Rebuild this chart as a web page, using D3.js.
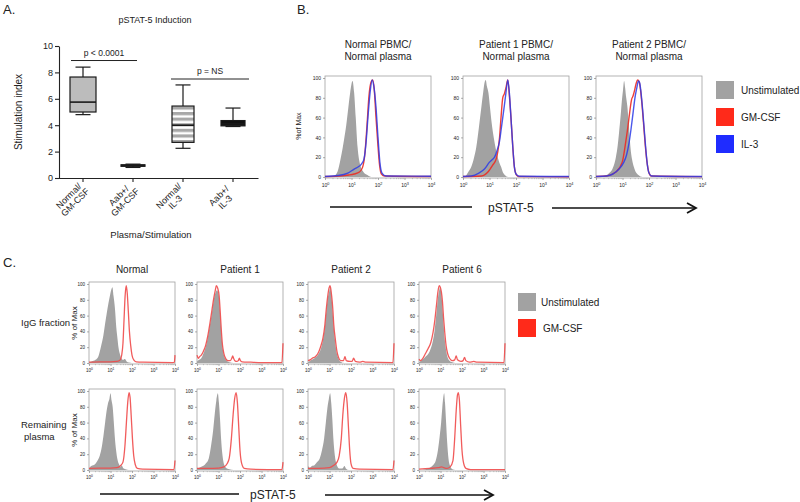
<!DOCTYPE html>
<html><head><meta charset="utf-8">
<script src="https://cdn.jsdelivr.net/npm/d3@7"></script>
<style>body{margin:0;background:#fff} text{font-family:Arial,"Liberation Sans",Helvetica,sans-serif;fill:#222}</style>
</head><body><svg id="c" width="800" height="502"></svg>
<script>
// ---------------- DATA ----------------
// Panel A: box plot
const boxCategories = ["Normal/GM-CSF","Aab+/GM-CSF","Normal/IL-3","Aab+/IL-3"];
const boxMin    = [4.8, 0.8, 2.25, 3.9];
const boxQ1     = [5.0, 0.9, 2.7, 3.95];
const boxMedian = [5.75, 0.95, 4.0, 4.1];
const boxQ3     = [7.65, 1.0, 5.45, 4.35];
const boxMax    = [8.4, 1.05, 7.05, 5.3];
const yTicksA   = [0, 2, 4, 6, 8, 10];
const pLabels   = ["p < 0.0001", "p = NS"];
const pLevels   = [8.9, 7.5];
const pPairs    = [[0, 1], [2, 3]];

// Panel B: flow histograms, points are [log10(pSTAT-5), % of Max]
const bTitleLine1 = ["Normal PBMC/", "Patient 1 PBMC/", "Patient 2 PBMC/"];
const bTitleLine2 = ["Normal plasma", "Normal plasma", "Normal plasma"];
const bUnstim = [
  [[0,0],[0.3,0.5],[0.45,4],[0.6,20],[0.72,38],[0.8,52],[0.88,70],[0.95,85],[1.04,97],[1.1,85],[1.16,60],[1.23,30],[1.33,12],[1.45,5],[1.6,2],[1.75,0],[4,0]],
  [[0,0],[0.1,1],[0.2,5],[0.31,10],[0.42,20],[0.5,30],[0.6,50],[0.69,70],[0.76,85],[0.81,95],[0.86,98],[0.9,92],[0.96,85],[1.02,70],[1.08,55],[1.16,40],[1.24,28],[1.31,20],[1.38,14],[1.44,10],[1.5,5],[1.58,2],[1.7,0],[4,0]],
  [[0,0],[0.3,1],[0.5,4],[0.62,8],[0.75,20],[0.82,32],[0.87,45],[0.93,62],[0.97,75],[1.02,88],[1.06,97],[1.1,90],[1.14,80],[1.18,72],[1.22,60],[1.26,45],[1.3,30],[1.36,18],[1.43,10],[1.5,5],[1.6,2],[1.75,0],[4,0]]
];
const bGMCSF = [
  [[0,0.5],[0.5,1],[0.9,2],[1.1,3],[1.3,5],[1.42,10],[1.5,22],[1.58,50],[1.66,82],[1.74,96],[1.8,98],[1.86,88],[1.92,62],[1.99,35],[2.06,12],[2.13,3],[2.25,1],[4,0.5]],
  [[0,0.5],[0.7,1],[0.94,5],[1.12,12],[1.25,18],[1.31,25],[1.38,40],[1.44,62],[1.5,80],[1.56,84],[1.62,90],[1.69,98],[1.75,82],[1.81,60],[1.88,30],[1.94,10],[2.02,2],[2.1,0.5],[4,0.3]],
  [[0,0.5],[0.4,1],[0.75,5],[0.99,15],[1.12,35],[1.2,50],[1.27,65],[1.34,78],[1.4,82],[1.46,88],[1.52,95],[1.57,98],[1.63,96],[1.68,88],[1.74,72],[1.8,52],[1.86,32],[1.93,14],[1.99,5],[2.08,1],[4,0.4]]
];
const bIL3 = [
  [[0,0.5],[0.5,1.5],[0.86,4],[1.1,8],[1.3,11],[1.4,14],[1.47,18],[1.55,35],[1.62,60],[1.7,85],[1.78,98],[1.84,92],[1.92,72],[2.0,40],[2.07,15],[2.15,4],[2.3,1],[4,0.8]],
  [[0,0.5],[0.31,1],[0.6,4],[0.81,8],[1.0,15],[1.12,18],[1.19,20],[1.3,28],[1.37,35],[1.44,48],[1.5,60],[1.56,72],[1.62,85],[1.69,98],[1.75,85],[1.81,60],[1.88,30],[1.94,10],[2.0,3],[2.12,0.8],[4,0.5]],
  [[0,0.5],[0.4,1],[0.87,8],[1.05,15],[1.15,22],[1.25,35],[1.32,48],[1.4,65],[1.47,80],[1.54,90],[1.6,97],[1.65,95],[1.7,85],[1.76,68],[1.82,48],[1.88,28],[1.94,12],[2.0,4],[2.1,1],[4,0.5]]
];
const bLegendLabels = ["Unstimulated", "GM-CSF", "IL-3"];

// Panel C: columns x rows
const cColumns = ["Normal", "Patient 1", "Patient 2", "Patient 6"];
const cRows = [["IgG fraction"], ["Remaining", "plasma"]];
const cIgGUnstim = [
  [[0,1],[0.12,2],[0.3,4],[0.43,8],[0.55,20],[0.67,35],[0.75,50],[0.82,62],[0.9,75],[0.98,86],[1.05,94],[1.09,96],[1.14,85],[1.21,68],[1.27,45],[1.32,32],[1.37,20],[1.43,12],[1.5,6],[1.58,4],[1.67,5],[1.75,2],[1.85,0.5],[2,0],[4,0]],
  [[0,2],[0.1,4],[0.2,6],[0.3,12],[0.4,20],[0.5,32],[0.6,48],[0.7,65],[0.78,80],[0.85,88],[0.93,92],[0.98,90],[1.03,82],[1.08,62],[1.13,40],[1.18,22],[1.25,10],[1.35,4],[1.5,1],[1.7,0],[4,0]],
  [[0,1],[0.1,3],[0.3,6],[0.5,12],[0.6,18],[0.7,30],[0.78,45],[0.85,65],[0.92,82],[0.98,90],[1.04,96],[1.09,85],[1.14,68],[1.2,45],[1.26,28],[1.32,15],[1.4,7],[1.5,2],[1.7,0],[4,0]],
  [[0,1],[0.1,3],[0.3,8],[0.5,15],[0.62,25],[0.72,40],[0.8,60],[0.88,82],[0.94,92],[0.98,96],[1.03,90],[1.08,75],[1.13,55],[1.18,35],[1.25,18],[1.32,8],[1.42,3],[1.55,1],[1.7,0],[4,0]]
];
const cIgGGMCSF = [
  [[0,1],[0.5,1.5],[1,1.5],[1.3,2],[1.45,4],[1.52,10],[1.58,25],[1.63,55],[1.68,85],[1.73,98],[1.78,88],[1.83,65],[1.88,40],[1.94,22],[2.0,10],[2.08,4],[2.2,1.5],[2.5,1],[3.9,0.5],[3.97,1],[4,10]],
  [[0,10],[0.06,6],[0.12,8],[0.2,10],[0.3,15],[0.4,22],[0.5,34],[0.6,50],[0.7,68],[0.78,82],[0.85,92],[0.9,98],[0.96,95],[1.03,85],[1.08,65],[1.13,42],[1.18,24],[1.25,12],[1.35,5],[1.45,3],[1.55,3],[1.62,6],[1.66,9],[1.7,6],[1.76,3],[1.85,2],[1.92,3],[1.97,6],[2.02,3],[2.1,1.5],[2.5,1],[3,0.5],[3.95,0.5],[4,25]],
  [[0,3],[0.1,4],[0.2,6],[0.34,8],[0.46,12],[0.58,20],[0.7,32],[0.78,47],[0.85,68],[0.92,85],[0.98,95],[1.02,98],[1.06,94],[1.1,85],[1.15,70],[1.2,48],[1.28,28],[1.35,14],[1.42,7],[1.52,3],[1.65,3],[1.72,8],[1.78,3],[1.95,2],[2.05,2],[2.12,6],[2.2,2],[2.4,1],[2.55,2],[2.7,1],[3.95,0.5],[4,25]],
  [[0,5],[0.08,3],[0.18,6],[0.3,12],[0.42,18],[0.55,26],[0.65,38],[0.74,55],[0.82,75],[0.88,90],[0.94,98],[0.99,96],[1.04,90],[1.09,78],[1.14,58],[1.2,38],[1.26,22],[1.33,12],[1.42,6],[1.55,3],[1.66,4],[1.73,9],[1.79,4],[1.95,2],[2.05,3],[2.12,7],[2.18,3],[2.35,1],[2.55,2],[2.7,1],[3.95,0.5],[4,25]]
];
const cRemUnstim = [
  [[0,2],[0.1,5],[0.2,6],[0.3,8],[0.4,12],[0.5,18],[0.6,30],[0.68,45],[0.75,60],[0.82,75],[0.88,84],[0.95,90],[1.0,97],[1.05,88],[1.1,80],[1.15,62],[1.2,42],[1.26,25],[1.32,14],[1.4,7],[1.47,4],[1.52,6],[1.58,3],[1.7,1],[1.85,0],[4,0]],
  [[0,2],[0.2,4],[0.4,8],[0.55,15],[0.65,30],[0.75,50],[0.83,72],[0.9,88],[0.97,97],[1.02,85],[1.07,65],[1.12,40],[1.18,20],[1.25,8],[1.35,3],[1.5,1],[1.7,0],[4,0]],
  [[0,5],[0.08,3],[0.18,5],[0.3,6],[0.42,10],[0.55,15],[0.65,25],[0.75,40],[0.83,60],[0.9,78],[0.97,90],[1.03,97],[1.08,85],[1.13,65],[1.18,40],[1.25,18],[1.33,7],[1.45,2],[1.6,2],[1.7,5],[1.76,2],[1.9,0],[4,0]],
  [[0,0],[0.3,1],[0.5,3],[0.65,6],[0.78,12],[0.88,25],[0.96,42],[1.03,60],[1.08,78],[1.13,92],[1.17,97],[1.21,85],[1.26,60],[1.31,35],[1.37,15],[1.45,5],[1.55,1],[1.7,0],[4,0]]
];
const cRemGMCSF = [
  [[0,2],[0.5,2.5],[1,2.5],[1.3,3],[1.45,5],[1.58,10],[1.67,30],[1.74,60],[1.8,85],[1.86,98],[1.91,92],[1.96,70],[2.02,40],[2.08,18],[2.15,7],[2.25,2],[2.5,1],[3.95,0.5],[4,12]],
  [[0,2],[0.5,2],[1.0,2.5],[1.25,4],[1.4,8],[1.5,15],[1.6,40],[1.68,70],[1.75,90],[1.82,98],[1.88,85],[1.94,55],[2.0,25],[2.08,8],[2.2,2],[2.5,1],[3.95,0.5],[4,10]],
  [[0,2],[0.5,2],[1.0,3],[1.2,6],[1.35,10],[1.45,18],[1.55,40],[1.62,70],[1.7,92],[1.76,98],[1.82,85],[1.88,55],[1.94,25],[2.0,8],[2.1,2],[2.4,1],[3.95,0.5],[4,12]],
  [[0,1],[0.5,2],[0.9,3],[1.05,4],[1.15,3],[1.3,2],[1.45,4],[1.58,12],[1.66,40],[1.73,75],[1.79,95],[1.83,98],[1.88,88],[1.94,55],[2.0,25],[2.08,8],[2.18,2],[2.4,0.5],[4,0.5]]
];
const cLegendLabels = ["Unstimulated", "GM-CSF"];

const histYTicks = [0, 20, 40, 60, 80, 100];
const histXTicks = [0, 1, 2, 3, 4];

// ---------------- STYLE ----------------
const GRAY = "#a2a2a2", RED = "#ec2a22", BLUE = "#2c3be8", CRED = "#ef4a4a";
const svg = d3.select("#c");
const defs = svg.append("defs");
const pat = defs.append("pattern").attr("id","stripes").attr("patternUnits","userSpaceOnUse")
  .attr("width",6).attr("height",5.6);
pat.append("rect").attr("width",6).attr("height",5.6).attr("fill","#fff");
pat.append("rect").attr("width",6).attr("height",3.2).attr("fill","#a8a8a8");

function label(x, y, t, size, opts = {}) {
  const el = svg.append("text").attr("x", x).attr("y", y).attr("font-size", size).text(t);
  if (opts.anchor) el.attr("text-anchor", opts.anchor);
  if (opts.rotate) el.attr("transform", `rotate(${opts.rotate},${x},${y})`);
  if (opts.weight) el.attr("font-weight", opts.weight);
  return el;
}

// ---------------- PANEL A ----------------
label(3, 14, "A.", 13);
label(155, 23, "pSTAT-5 Induction", 9, {anchor: "middle"});
const xA = d3.scaleBand().domain(boxCategories).range([58, 258]);
const yA = d3.scaleLinear().domain([0, 10]).range([178, 46]);
const cx = c => xA(c) + xA.bandwidth() / 2;

const ayA = svg.append("g").attr("transform", "translate(59,0)")
  .call(d3.axisLeft(yA).tickValues(yTicksA).tickSize(4).tickSizeOuter(0).tickPadding(2));
ayA.selectAll("text").attr("font-size", 9).attr("font-family", "Arial,Liberation Sans,sans-serif").attr("fill", "#222");
ayA.selectAll("line,path").attr("stroke", "#222").attr("stroke-width", 1.1);
const axA = svg.append("g").attr("transform", "translate(0,178)")
  .call(d3.axisBottom(xA).tickSize(4).tickSizeOuter(0).tickFormat(""));
axA.selectAll("line,path").attr("stroke", "#222").attr("stroke-width", 1.1);

label(22, 112, "Stimulation index", 10, {anchor: "middle", rotate: -90});
label(151, 238, "Plasma/Stimulation", 9.5, {anchor: "middle"});

boxCategories.forEach((c, i) => {
  const parts = c.split("/");
  const g = svg.append("g").attr("transform", `translate(${cx(c) - 12},${198}) rotate(-45)`);
  const t = g.append("text").attr("text-anchor", "middle").attr("font-size", 9);
  t.append("tspan").attr("x", 0).attr("y", 0).text(parts[0] + "/");
  t.append("tspan").attr("x", 0).attr("y", 9).text(parts[1]);
});

const boxFills = ["#bcbcbc", "#1a1a1a", "url(#stripes)", "#111"];
const boxW = [26, 24, 22, 24];
boxCategories.forEach((c, i) => {
  const x = cx(c), w = boxW[i], cap = 15;
  const g = svg.append("g").attr("stroke", "#1a1a1a").attr("stroke-width", 1.2);
  g.append("line").attr("x1", x).attr("x2", x).attr("y1", yA(boxMax[i])).attr("y2", yA(boxQ3[i]));
  g.append("line").attr("x1", x).attr("x2", x).attr("y1", yA(boxMin[i])).attr("y2", yA(boxQ1[i]));
  g.append("line").attr("x1", x - cap/2).attr("x2", x + cap/2).attr("y1", yA(boxMax[i])).attr("y2", yA(boxMax[i]));
  g.append("line").attr("x1", x - cap/2).attr("x2", x + cap/2).attr("y1", yA(boxMin[i])).attr("y2", yA(boxMin[i]));
  g.append("rect").attr("x", x - w/2).attr("width", w)
    .attr("y", yA(boxQ3[i])).attr("height", Math.max(1.5, yA(boxQ1[i]) - yA(boxQ3[i])))
    .attr("fill", boxFills[i]);
  g.append("line").attr("x1", x - w/2).attr("x2", x + w/2).attr("y1", yA(boxMedian[i])).attr("y2", yA(boxMedian[i]))
    .attr("stroke-width", 1.6);
});

pLabels.forEach((p, i) => {
  const [a, b] = pPairs[i];
  const x1 = cx(boxCategories[a]) - 12, x2 = cx(boxCategories[b]) + (i === 0 ? 4 : 16);
  const y = yA(pLevels[i]);
  svg.append("line").attr("x1", x1).attr("x2", x2).attr("y1", y).attr("y2", y)
    .attr("stroke", "#222").attr("stroke-width", 1);
  label((x1 + x2) / 2, y - 5, p, 8.5, {anchor: "middle"});
});

// ---------------- HISTOGRAM HELPER ----------------
function histPanel(left, top, w, h, unstim, lines, opts) {
  const x = d3.scaleLinear().domain([0, 4]).range([left, left + w]);
  const y = d3.scaleLinear().domain([0, 100]).range([top + h - 1, top + 2]);
  const g = svg.append("g");
  g.append("rect").attr("x", left).attr("y", top).attr("width", w).attr("height", h)
    .attr("fill", "none").attr("stroke", "#a0a0a0").attr("stroke-width", 0.8);
  const area = d3.area().x(d => x(d[0])).y0(y(0)).y1(d => y(d[1])).curve(d3.curveMonotoneX);
  g.append("path").datum(unstim).attr("d", area).attr("fill", GRAY);
  const line = d3.line().x(d => x(d[0])).y(d => y(d[1])).curve(d3.curveMonotoneX);
  lines.forEach(l => {
    g.append("path").datum(l.data).attr("d", line).attr("fill", "none")
      .attr("stroke", l.color).attr("stroke-width", l.width).attr("stroke-opacity", l.opacity);
  });
  const ay = g.append("g").attr("transform", `translate(${left},0)`)
    .call(d3.axisLeft(y).tickValues(histYTicks).tickSize(2).tickSizeOuter(0).tickPadding(2));
  ay.select(".domain").remove();
  ay.selectAll("line").attr("stroke", "#777").attr("stroke-width", 0.6);
  ay.selectAll("text").attr("font-size", opts.tick).attr("fill", "#333").attr("font-family", "Arial,sans-serif");
  const ax = g.append("g").attr("transform", `translate(0,${top + h})`)
    .call(d3.axisBottom(x).tickValues(histXTicks).tickSize(2).tickSizeOuter(0).tickPadding(2).tickFormat(""));
  ax.select(".domain").remove();
  ax.selectAll("line").attr("stroke", "#777").attr("stroke-width", 0.6);
  // minor log ticks
  const minors = [];
  for (let k = 0; k < 4; k++) for (let m = 2; m <= 9; m++) minors.push(k + Math.log10(m));
  g.selectAll(null).data(minors).enter().append("line")
    .attr("x1", d => x(d)).attr("x2", d => x(d)).attr("y1", top + h).attr("y2", top + h + 1.2)
    .attr("stroke", "#999").attr("stroke-width", 0.5);
  ax.selectAll(".tick").append("text").attr("y", opts.tickDy).attr("text-anchor", "middle")
    .attr("font-size", opts.tick).attr("fill", "#333").attr("font-family", "Arial,sans-serif")
    .each(function(d) {
      const t = d3.select(this);
      t.append("tspan").text("10");
      t.append("tspan").attr("dy", -2).attr("font-size", opts.tick * 0.75).text(d);
    });
  return {x, y};
}

// ---------------- PANEL B ----------------
label(297, 14, "B.", 13);
const bLefts = [325, 463, 596];
bTitleLine1.forEach((t, i) => {
  const c = bLefts[i] + 53;
  label(c, 48, t, 10, {anchor: "middle"});
  label(c, 60, bTitleLine2[i], 10, {anchor: "middle"});
  histPanel(bLefts[i], 76, 106, 102, bUnstim[i], [
    {data: bGMCSF[i], color: RED, width: 1.4, opacity: 0.9},
    {data: bIL3[i], color: BLUE, width: 1.4, opacity: 0.85}
  ], {tick: 5, tickDy: 9});
});
label(301, 126, "%of Max", 7, {anchor: "middle", rotate: -90});
svg.append("line").attr("x1", 330).attr("x2", 472).attr("y1", 207).attr("y2", 207).attr("stroke", "#111").attr("stroke-width", 1.3);
label(488, 212, "pSTAT-5", 12);
svg.append("line").attr("x1", 552).attr("x2", 695).attr("y1", 208).attr("y2", 208).attr("stroke", "#111").attr("stroke-width", 1.3);
svg.append("path").attr("d", "M687,203 L696,208 L687,213").attr("fill", "none").attr("stroke", "#111").attr("stroke-width", 1.8);

const bLegendColors = [GRAY, "#ff2a1a", "#1f2cff"];
bLegendLabels.forEach((t, i) => {
  const y = 81 + i * 27;
  svg.append("rect").attr("x", 716).attr("y", y).attr("width", 18).attr("height", 18).attr("fill", bLegendColors[i]);
  label(741, y + 13, t, 10);
});

// ---------------- PANEL C ----------------
label(3, 267, "C.", 13);
const cLefts = [89, 197, 308, 419];
const cTops = [282, 389];
cColumns.forEach((t, i) => label(cLefts[i] + 43, 273, t, 10, {anchor: "middle"}));
const cData = [[cIgGUnstim, cIgGGMCSF], [cRemUnstim, cRemGMCSF]];
cTops.forEach((top, r) => {
  cColumns.forEach((c, i) => {
    histPanel(cLefts[i], top, 86, 82, cData[r][0][i], [
      {data: cData[r][1][i], color: CRED, width: 1.3, opacity: 0.9}
    ], {tick: 4.5, tickDy: 8});
  });
  label(77, top + 41, "% of Max", 8, {anchor: "middle", rotate: -90});
});
label(21, 326, cRows[0][0], 9.5);
label(21, 428, cRows[1][0], 9.5);
label(24, 440, cRows[1][1], 9.5);

svg.append("line").attr("x1", 100).attr("x2", 239).attr("y1", 494).attr("y2", 494).attr("stroke", "#111").attr("stroke-width", 1.3);
label(250, 499, "pSTAT-5", 12);
svg.append("line").attr("x1", 325).attr("x2", 492).attr("y1", 495).attr("y2", 495).attr("stroke", "#111").attr("stroke-width", 1.3);
svg.append("path").attr("d", "M484,490 L493,495 L484,500").attr("fill", "none").attr("stroke", "#111").attr("stroke-width", 1.8);

const cLegendColors = [GRAY, "#ff2a1a"];
cLegendLabels.forEach((t, i) => {
  const y = 293 + i * 26;
  svg.append("rect").attr("x", 518).attr("y", y).attr("width", 18).attr("height", 18).attr("fill", cLegendColors[i]);
  label(541 + i * 2, y + 13, t, 10);
});
</script></body></html>
